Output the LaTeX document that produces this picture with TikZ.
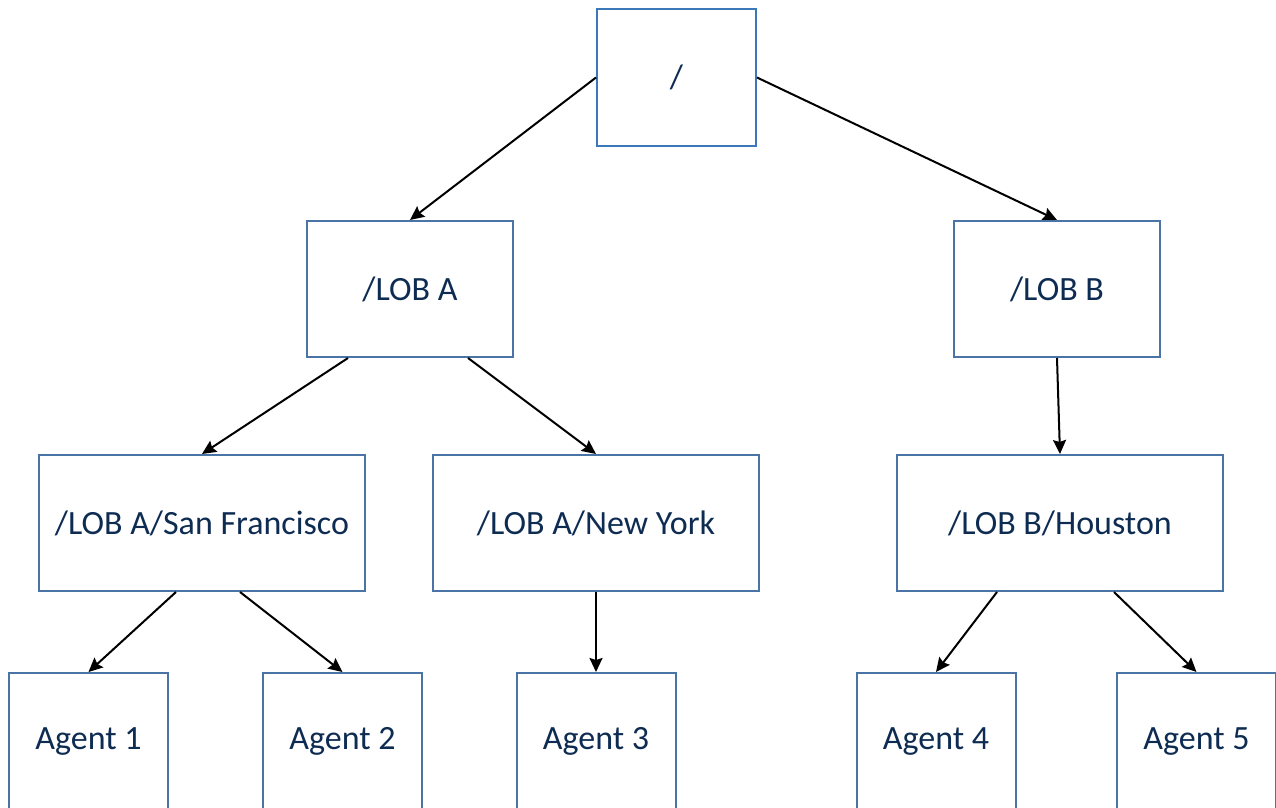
\documentclass[tikz,border=0pt]{standalone}
\usepackage{fontspec}
\setmainfont{Carlito}
\usetikzlibrary{arrows.meta,positioning}
\definecolor{boxblue}{HTML}{4A74A6}
\definecolor{rootblue}{HTML}{3A78B9}
\definecolor{navy}{HTML}{0E2C52}
\tikzset{
  dirbox/.style={draw=boxblue,line width=1pt,minimum height=68pt,inner sep=0pt,
    text=navy,font=\fontsize{17}{20}\selectfont},
  link/.style={-{Stealth[length=7pt,width=6.5pt,inset=1pt]},line width=1pt}
}
\begin{document}
\begin{tikzpicture}[x=0.5pt,y=-0.5pt]
\useasboundingbox (0,0) rectangle (1276,808);
% directory tree
\node[dirbox,draw=rootblue,minimum width=79.5pt,minimum height=68.5pt](root) at (676.5,77.5){/};
\node[dirbox,minimum width=103pt](lobA) at (410,289){/LOB A};
\node[dirbox,minimum width=103pt](lobB) at (1057,289){/LOB B};
\node[dirbox,minimum width=163pt](sf) at (202,523){/LOB A/San Francisco};
\node[dirbox,minimum width=163pt](ny) at (596,523){/LOB A/New York};
\node[dirbox,minimum width=163pt](hou) at (1060,523){/LOB B/Houston};
\foreach \x [count=\n] in {88.5,342.5,596,936,1196.5}
  \node[dirbox,minimum width=79.5pt,minimum height=68.5pt](A\n) at (\x,741.5){Agent \n};

\draw[link] (root.west) -- (lobA.north);
\draw[link] (root.east) -- (lobB.north);
\draw[link] ([xshift=-31pt]lobA.south) -- (sf.north);
\draw[link] ([xshift=29pt]lobA.south) -- (ny.north);
\draw[link] (lobB.south) -- (hou.north);
\draw[link] ([xshift=-13pt]sf.south) -- (A1.north);
\draw[link] ([xshift=19pt]sf.south) -- (A2.north);
\draw[link] (ny.south) -- (A3.north);
\draw[link] ([xshift=-31.5pt]hou.south) -- (A4.north);
\draw[link] ([xshift=27pt]hou.south) -- (A5.north);
\end{tikzpicture}
\end{document}
